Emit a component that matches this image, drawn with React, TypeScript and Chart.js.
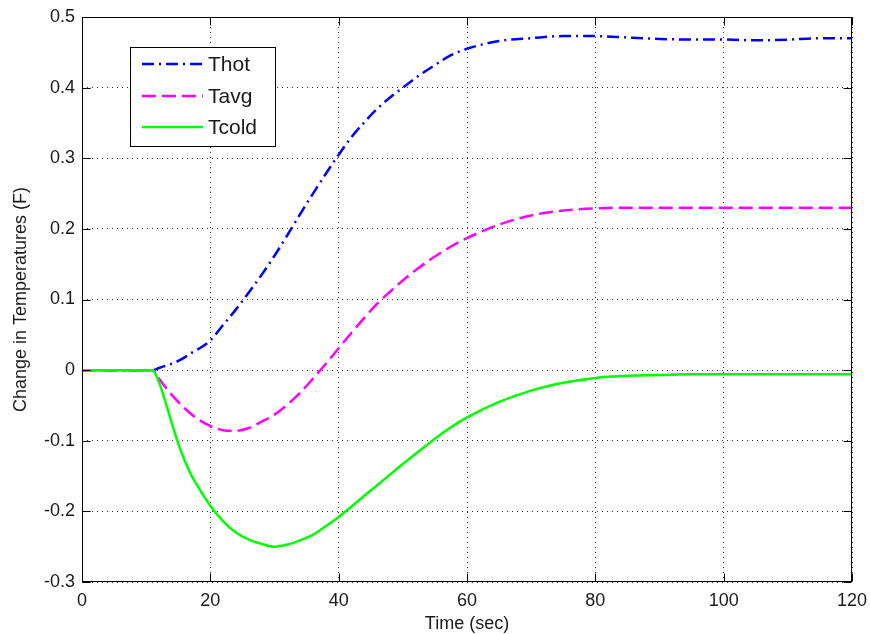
import React, { useEffect, useRef } from 'react';
import { Chart, registerables } from 'chart.js';

Chart.register(...registerables);

// ---- data ----
const timeSec = [0, 5, 10, 11, 12, 13, 14, 15, 16, 17, 18, 20, 22, 24, 26, 28, 30, 32, 34, 36, 38, 40, 42, 44, 46, 48, 50, 52.5, 55, 57.5, 60, 65, 70, 75, 80, 85, 90, 95, 100, 105, 110, 115, 120];
const thot = [0, 0, 0, 0, 0.003, 0.006, 0.009, 0.013, 0.018, 0.024, 0.029, 0.042, 0.064, 0.086, 0.110, 0.135, 0.162, 0.191, 0.221, 0.250, 0.278, 0.305, 0.330, 0.351, 0.370, 0.386, 0.400, 0.417, 0.432, 0.446, 0.455, 0.466, 0.470, 0.473, 0.473, 0.471, 0.469, 0.468, 0.468, 0.467, 0.468, 0.470, 0.470];
const tavg = [0, 0, 0, 0, -0.012, -0.024, -0.035, -0.045, -0.054, -0.062, -0.069, -0.079, -0.085, -0.086, -0.082, -0.073, -0.063, -0.049, -0.032, -0.012, 0.009, 0.031, 0.053, 0.074, 0.094, 0.111, 0.127, 0.145, 0.161, 0.175, 0.187, 0.206, 0.219, 0.226, 0.229, 0.230, 0.230, 0.230, 0.230, 0.230, 0.230, 0.230, 0.230];
const tcold = [0, 0, 0, 0, -0.017, -0.045, -0.075, -0.104, -0.128, -0.148, -0.164, -0.192, -0.214, -0.230, -0.240, -0.246, -0.250, -0.247, -0.241, -0.233, -0.221, -0.208, -0.193, -0.178, -0.163, -0.148, -0.133, -0.115, -0.097, -0.081, -0.067, -0.045, -0.029, -0.018, -0.011, -0.008, -0.007, -0.006, -0.006, -0.006, -0.006, -0.006, -0.006];

const seriesNames = ['Thot', 'Tavg', 'Tcold'];
const xTicks = [0, 20, 40, 60, 80, 100, 120];
const yTicks = [-0.3, -0.2, -0.1, 0, 0.1, 0.2, 0.3, 0.4, 0.5];
const xTitle = 'Time (sec)';
const yTitle = 'Change in Temperatures (F)';

const FONT = '"Liberation Sans", Arial, Helvetica, sans-serif';
const TEXT = '#1a1a1a';

const colors = ['#0000ff', '#ff00ff', '#00ff00'];
const dashes = [[12, 5, 2, 5], [14, 6], []];

const framePlugin = {
  id: 'matlabFrame',
  afterDraw(chart: any) {
    const { ctx, chartArea } = chart;
    const { left, right, top, bottom } = chartArea;
    const xs = chart.scales.x;
    const ys = chart.scales.y;
    ctx.save();
    ctx.strokeStyle = '#000';
    ctx.lineWidth = 1;
    ctx.setLineDash([]);
    const L = Math.round(left) + 0.5, R = Math.round(right) - 0.5, T = Math.round(top) + 0.5, B = Math.round(bottom) - 0.5;
    ctx.strokeRect(L, T, R - L, B - T);
    const tl = 8;
    ctx.beginPath();
    xTicks.forEach((v) => {
      const px = Math.round(xs.getPixelForValue(v)) + 0.5;
      ctx.moveTo(px, B); ctx.lineTo(px, B - tl);
      ctx.moveTo(px, T); ctx.lineTo(px, T + tl);
    });
    yTicks.forEach((v) => {
      const py = Math.round(ys.getPixelForValue(v)) + 0.5;
      ctx.moveTo(L, py); ctx.lineTo(L + tl, py);
      ctx.moveTo(R, py); ctx.lineTo(R - tl, py);
    });
    ctx.stroke();

    // axis titles
    ctx.fillStyle = TEXT;
    ctx.font = `18px ${FONT}`;
    ctx.textAlign = 'center';
    ctx.textBaseline = 'middle';
    ctx.fillText(xTitle, (left + right) / 2, 624);
    ctx.save();
    ctx.translate(21, (top + bottom) / 2);
    ctx.rotate(-Math.PI / 2);
    ctx.fillText(yTitle, 0, 0);
    ctx.restore();

    // legend
    const bx = 130.5, by = 47.5, bw = 145, bh = 99;
    ctx.fillStyle = '#fff';
    ctx.fillRect(bx, by, bw, bh);
    ctx.strokeStyle = '#000';
    ctx.lineWidth = 1;
    ctx.strokeRect(bx, by, bw, bh);
    const rowY = [64, 96, 127];
    seriesNames.forEach((name, i) => {
      ctx.save();
      ctx.strokeStyle = colors[i];
      ctx.lineWidth = 2.5;
      ctx.setLineDash(dashes[i]);
      ctx.beginPath();
      ctx.moveTo(142, rowY[i]);
      ctx.lineTo(203, rowY[i]);
      ctx.stroke();
      ctx.restore();
      ctx.fillStyle = TEXT;
      ctx.font = `21px ${FONT}`;
      ctx.textAlign = 'left';
      ctx.textBaseline = 'middle';
      ctx.fillText(name, 208, rowY[i] + 1);
    });
    ctx.restore();
  },
};

export default function App() {
  const ref = useRef<HTMLCanvasElement>(null);
  useEffect(() => {
    const canvas = ref.current;
    if (!canvas) return;
    const series = [thot, tavg, tcold];
    const chart = new Chart(canvas, {
      type: 'line',
      data: {
        datasets: seriesNames.map((name, i) => ({
          label: name,
          data: timeSec.map((t, j) => ({ x: t, y: series[i][j] })),
          borderColor: colors[i],
          backgroundColor: colors[i],
          borderWidth: 2.5,
          borderDash: dashes[i],
          pointRadius: 0,
          fill: false,
          cubicInterpolationMode: 'monotone' as const,
          order: 3 - i,
        })),
      },
      options: {
        responsive: false,
        animation: false,
        events: [],
        layout: { padding: { top: 17, right: 18, left: 0, bottom: 0 } },
        plugins: { legend: { display: false }, tooltip: { enabled: false }, title: { display: false } },
        scales: {
          x: {
            type: 'linear',
            min: 0,
            max: 120,
            afterBuildTicks: (s: any) => { s.ticks = xTicks.map((v) => ({ value: v })); },
            afterFit: (s: any) => { s.height = 52; s.paddingLeft = 0; s.paddingRight = 0; },
            grid: { color: '#333', lineWidth: 1, drawTicks: false },
            border: { display: false, dash: [1, 4] },
            ticks: { padding: 8, color: TEXT, font: { family: FONT, size: 18 }, maxRotation: 0, autoSkip: false, callback: (v: any) => String(v) },
          },
          y: {
            type: 'linear',
            min: -0.3,
            max: 0.5,
            afterBuildTicks: (s: any) => { s.ticks = yTicks.map((v) => ({ value: v })); },
            afterFit: (s: any) => { s.width = 82; s.paddingTop = 0; s.paddingBottom = 0; },
            grid: { color: '#333', lineWidth: 1, drawTicks: false },
            border: { display: false, dash: [1, 4] },
            ticks: { padding: 7, color: TEXT, font: { family: FONT, size: 18 }, autoSkip: false, callback: (v: any) => String(Number(Number(v).toFixed(1))) },
          },
        },
      },
      plugins: [framePlugin],
    });
    return () => chart.destroy();
  }, []);
  return (
    <div style={{ position: 'absolute', left: 0, top: 0, width: 870, height: 634, background: '#fff' }}>
      <canvas ref={ref} width={870} height={634} style={{ display: 'block', width: 870, height: 634 }} />
    </div>
  );
}
